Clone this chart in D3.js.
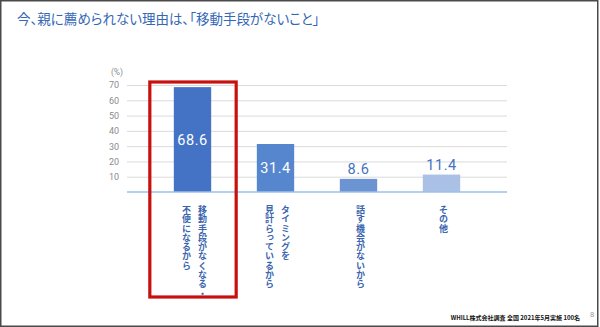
<!DOCTYPE html>
<html>
<head>
<meta charset="utf-8">
<script src="https://cdn.jsdelivr.net/npm/d3@7"></script>
<style>
  html, body { margin: 0; padding: 0; background: #fff; }
  svg { display: block; }
  .jp { font-family: "Noto Sans CJK JP", "Noto Sans", sans-serif; }
  .vlabel { writing-mode: vertical-rl; text-orientation: upright; }
</style>
</head>
<body>
<svg id="chart" width="600" height="327"></svg>
<script>
// Reasons parents gave (percent of respondents)
const categories = ["移動手段", "タイミング", "話す機会", "その他"];
const labelLines = [
  ["移動手段がなくなる・", "不便になるから"],
  ["タイミングを", "見計らっているから"],
  ["話す機会がないから"],
  ["その他"]
];
const values = [68.6, 31.4, 8.6, 11.4];
const barColors = ["#4472C4", "#5686CD", "#6D94D2", "#AAC0E4"];
const yTicks = [10, 20, 30, 40, 50, 60, 70];

const svg = d3.select("#chart");
const W = 600, H = 327;

// slide frame
svg.append("rect").attr("x", 0.75).attr("y", 0.75).attr("width", W - 3).attr("height", H - 1.5)
  .attr("fill", "#fff").attr("stroke", "#4a4a4a").attr("stroke-width", 1.5);

// title
svg.append("text").attr("class", "jp")
  .attr("x", 17).attr("y", 24)
  .attr("font-size", 13.5).attr("fill", "#3467B5")
  .style("font-feature-settings", "'palt'")
  .text("今、親に薦められない理由は、「移動手段がないこと」");

const gridX0 = 127, gridX1 = 507;
const y = d3.scaleLinear().domain([0, 70]).range([192, 85]);
const x = d3.scaleBand().domain(categories).range([151, 483]).paddingInner(0.55).paddingOuter(0.275);

// gridlines + tick labels
const yAxis = d3.axisLeft(y).tickValues(yTicks).tickSize(-(gridX1 - gridX0)).tickPadding(8);
const gAxis = svg.append("g").attr("transform", `translate(${gridX0},0)`).call(yAxis);
gAxis.select(".domain").remove();
gAxis.selectAll(".tick line").attr("stroke", "#DADADA").attr("stroke-width", 1);
gAxis.selectAll(".tick text").attr("fill", "#8C8C8C").attr("font-size", 9)
  .attr("font-family", "Roboto, 'Noto Sans', sans-serif");

svg.append("text").attr("x", 117).attr("y", 75).attr("text-anchor", "middle")
  .attr("fill", "#8C8C8C").attr("font-size", 8.5).attr("font-family", "Roboto, sans-serif")
  .text("(%)");

// bars
svg.selectAll("rect.bar").data(values).join("rect").attr("class", "bar")
  .attr("x", (d, i) => x(categories[i]))
  .attr("y", d => y(d))
  .attr("width", x.bandwidth())
  .attr("height", d => y(0) - y(d))
  .attr("fill", (d, i) => barColors[i]);

// baseline
svg.append("line").attr("x1", gridX0).attr("x2", gridX1).attr("y1", y(0)).attr("y2", y(0))
  .attr("stroke", "#9DC0E8").attr("stroke-width", 1.5);

// value labels: inside tall bars, above short ones
svg.selectAll("text.val").data(values).join("text").attr("class", "val")
  .attr("x", (d, i) => x(categories[i]) + x.bandwidth() / 2)
  .attr("y", d => d > 20 ? (y(d) + y(0)) / 2 + 5 : y(d) - 5)
  .attr("text-anchor", "middle")
  .attr("font-size", 14.5)
  .attr("font-family", "Roboto, sans-serif")
  .attr("fill", d => d > 20 ? "#fff" : "#4472C4")
  .style("letter-spacing", "0.6px")
  .text(d => d.toFixed(1));

// vertical category labels, right-to-left columns
const colGap = 16, labelFs = 9, labelTop = 205;
labelLines.forEach((lines, i) => {
  const cx = x(categories[i]) + x.bandwidth() / 2 + 2;
  const n = lines.length;
  lines.forEach((t, j) => {
    const offset = n === 1 ? 0 : (n - 1) * colGap / 2 - j * colGap;
    svg.append("text").attr("class", "jp vlabel")
      .attr("x", cx + offset).attr("y", labelTop)
      .attr("font-size", labelFs).attr("font-weight", 700)
      .attr("fill", "#3A64AE")
      .style("letter-spacing", "0.3px")
      .text(t);
  });
});

// highlight box around the leading reason
const hx = x(categories[0]);
svg.append("rect")
  .attr("x", hx - 24).attr("y", 82)
  .attr("width", x.bandwidth() + 49).attr("height", 215)
  .attr("fill", "none").attr("stroke", "#C8100E").attr("stroke-width", 3.2);

// source note and page number
svg.append("text").attr("class", "jp").attr("x", 580).attr("y", 320)
  .attr("text-anchor", "end").attr("font-size", 6).attr("font-weight", 700).attr("fill", "#111")
  .text("WHILL株式会社調査 全国 2021年5月実施 100名");
svg.append("text").attr("x", 592).attr("y", 317).attr("text-anchor", "middle")
  .attr("font-size", 7.5).attr("fill", "#999").attr("font-family", "Roboto, sans-serif")
  .text("8");
</script>
</body>
</html>
